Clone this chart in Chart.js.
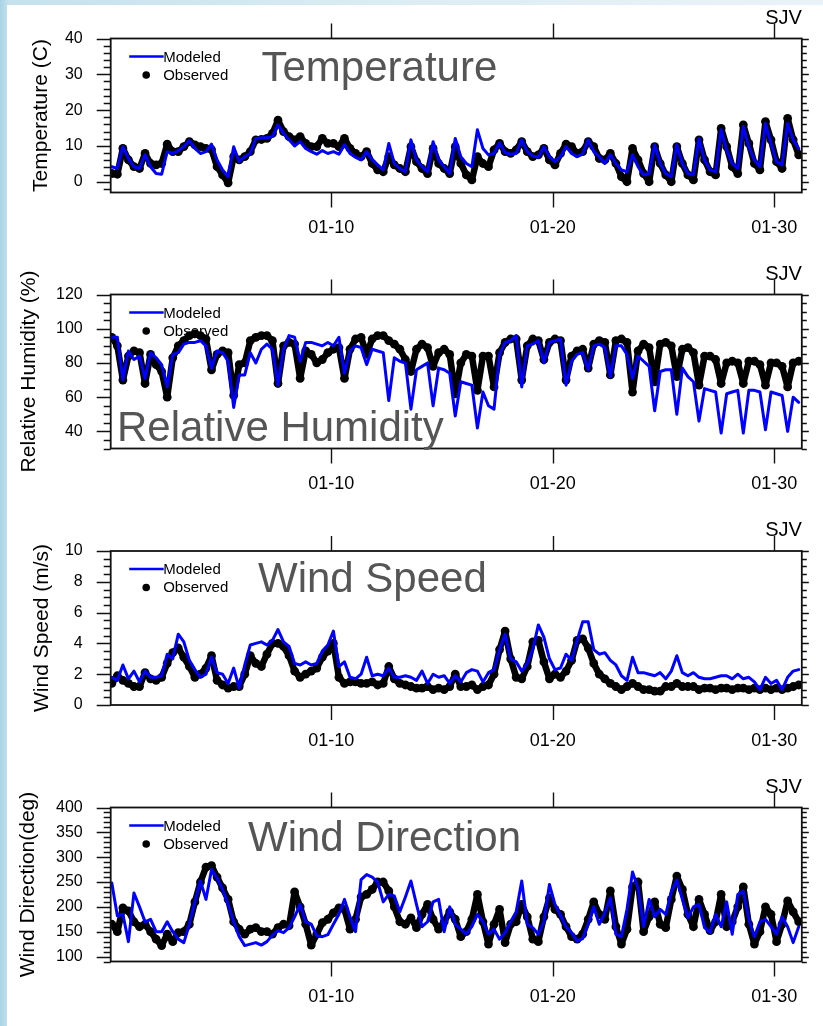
<!DOCTYPE html>
<html>
<head>
<meta charset="utf-8">
<script src="https://cdn.jsdelivr.net/npm/chart.js@4.4.0/dist/chart.umd.min.js"></script>
<style>
  html, body { margin: 0; padding: 0; }
  body {
    width: 823px; height: 1026px; position: relative; overflow: hidden;
    background: linear-gradient(to right, #a9d3e5 0px, #c4e1ed 8px, #dcedf4 50%, #e9f3f7 100%);
  }
  #sheet { position: absolute; left: 7px; top: 5px; right: 0; bottom: 0; background: #fff; }
  canvas { position: absolute; left: 0; }
</style>
</head>
<body>
<div id="sheet"></div>
<canvas id="c-temp" width="823" height="256" style="top:0px"></canvas>
<canvas id="c-rh" width="823" height="256" style="top:256px"></canvas>
<canvas id="c-ws" width="823" height="256" style="top:512px"></canvas>
<canvas id="c-wd" width="823" height="256" style="top:769px"></canvas>
<script>
// --- DATA: one value every 6 hours, first sample at day 0.1 ---
const START_DAY = 0.1;
const STEP_DAY = 0.25;
const dayTicks = [10, 20, 30];
const dayTickLabels = ['01-10', '01-20', '01-30'];

const tempModeled = [
  4.2, 3.7, 9.8, 6.5,  4.2, 3.7, 7.5, 4.2,  2.3, 2.1, 8.4, 7.9,  8.7, 9.8, 11.5, 9.3,
  7.9, 8.4, 10.5, 6.1,  3.3, 1.4, 9.8, 5.6,  7.0, 7.9, 12.1, 12.3,  12.3, 12.6, 15.9, 13.5,
  11.7, 10.0, 11.2, 9.3,  8.4, 7.7, 8.7, 7.9,  8.4, 7.7, 10.3, 7.9,  6.8, 6.1, 8.4, 6.2,
  4.7, 3.3, 10.7, 5.1,  3.7, 2.8, 11.7, 6.1,
  4.2, 2.8, 11.2, 6.1,  4.2, 2.3, 12.1, 7.0,  5.1, 4.2, 14.5, 9.3,  7.5, 7.9, 10.9, 8.1,
  7.7, 7.9, 11.7, 8.4,  7.2, 6.8, 9.8, 7.0,  5.6, 7.0, 9.8, 7.9,  7.0, 7.7, 11.7, 8.4,
  7.0, 5.1, 7.5, 5.1,  3.3, 2.8, 7.5, 4.2,  1.9, 2.3, 10.3, 5.1,  2.3, 1.4, 10.3, 5.1,
  2.3, 1.9, 12.1, 6.1,  3.3, 2.8, 14.5, 8.9,  5.1, 3.7, 15.4, 9.8,  6.1, 4.2, 16.3, 10.7,
  5.6, 4.7, 16.3, 11.7,  9.3
];
const tempObserved = [
  2.3, 2.1, 9.3, 6.1,  4.2, 3.7, 7.9, 5.1,  4.7, 5.1, 10.5, 8.4,  8.4, 9.8, 11.2, 10.3,
  9.8, 9.3, 9.0, 4.2,  1.9, -0.3, 7.0, 6.1,  7.0, 8.4, 11.7, 11.8,  12.1, 13.5, 17.2, 14.0,
  12.6, 11.7, 12.6, 10.7,  9.8, 9.8, 12.1, 10.7,  10.7, 9.8, 12.1, 9.3,  7.9, 7.0, 8.4, 5.1,
  3.3, 2.8, 7.0, 4.7,  3.7, 2.8, 9.8, 5.6,
  3.7, 2.3, 9.3, 5.1,  3.7, 2.3, 9.8, 5.1,  1.9, 0.5, 7.0, 5.1,  4.2, 8.9, 10.7, 8.4,
  7.9, 8.9, 11.2, 8.4,  7.0, 7.5, 9.3, 6.1,  4.7, 7.9, 10.5, 9.8,  7.9, 8.4, 11.2, 9.8,
  6.5, 6.1, 7.9, 5.1,  1.4, 0.0, 9.3, 6.1,  2.3, 0.0, 9.8, 5.1,  1.9, 0.0, 9.8, 5.1,
  1.9, 0.5, 11.7, 6.1,  2.8, 1.9, 14.9, 9.8,  4.2, 2.3, 15.9, 10.7,  5.1, 3.3, 16.8, 11.7,
  5.6, 3.7, 17.7, 11.7,  7.5
];

const rhModeled = [
  95, 95, 70, 87,  82, 84, 71, 86,  83, 79, 66, 85,  86, 91, 92, 92,
  93, 90, 77, 87,  86, 81, 54, 73,  73, 86, 80, 88,  91, 88, 67, 88,
  96, 95, 81, 92,  92, 91, 90, 92,  90, 95, 74, 87,  90, 89, 79, 88,
  87, 86, 58, 83,  81, 80, 53, 76,
  78, 80, 55, 77,  76, 74, 49, 69,  68, 67, 42, 63,  55, 53, 85, 92,
  93, 96, 66, 90,  91, 93, 80, 92,  93, 94, 67, 81,  85, 86, 76, 90,
  91, 89, 72, 90,  90, 85, 71, 84,  81, 78, 52, 75,  76, 76, 50, 77,
  72, 69, 46, 65,  64, 63, 39, 62,  63, 64, 39, 64,  64, 63, 41, 63,
  62, 61, 40, 60,  57
];
const rhObserved = [
  95, 90, 70, 84,  87, 86, 68, 85,  79, 75, 60, 83,  90, 93, 96, 97,
  96, 94, 76, 85,  87, 86, 61, 79,  80, 93, 95, 96,  96, 93, 68, 90,
  92, 91, 71, 87,  85, 80, 82, 86,  88, 89, 71, 88,  94, 95, 85, 94,
  96, 96, 93, 91,  88, 82, 75, 88,
  91, 89, 78, 86,  88, 85, 62, 80,  85, 84, 64, 84,  84, 66, 86, 92,
  94, 94, 70, 90,  94, 93, 82, 92,  94, 93, 70, 84,  87, 88, 77, 91,
  93, 92, 73, 93,  94, 92, 63, 87,  91, 89, 69, 91,  92, 90, 72, 88,
  89, 86, 67, 84,  84, 82, 68, 80,  81, 80, 68, 81,  81, 79, 67, 80,
  80, 78, 66, 80,  81
];

const wsModeled = [
  1.8, 1.6, 2.6, 1.7,  2.2, 1.5, 2.2, 1.8,  1.8, 1.9, 3.3, 3.0,  4.6, 4.1, 2.9, 2.3,
  1.8, 2.0, 3.1, 2.1,  2.0, 1.4, 2.4, 1.1,  2.6, 3.9, 4.0, 4.1,  3.9, 4.2, 4.9, 4.1,
  3.8, 2.7, 2.6, 2.8,  2.6, 2.7, 3.5, 3.9,  4.8, 2.5, 2.8, 1.8,  1.7, 2.0, 3.1, 1.9,
  2.0, 1.9, 2.4, 1.8,  1.8, 1.9, 1.8, 1.6,
  2.2, 1.4, 2.0, 1.8,  1.9, 1.4, 1.9, 1.5,  2.1, 2.3, 2.2, 1.5,  2.1, 2.3, 3.6, 4.6,
  3.0, 2.8, 2.2, 2.7,  3.6, 5.2, 4.4, 3.0,  2.3, 2.4, 3.3, 2.9,  4.2, 5.4, 5.4, 3.6,
  3.3, 3.4, 2.9, 2.6,  1.9, 1.6, 3.1, 2.1,  2.1, 2.0, 1.9, 2.1,  1.7, 2.2, 3.2, 2.1,
  1.9, 2.1, 1.8, 1.7,  1.7, 1.8, 1.9, 1.9,  1.7, 2.0, 1.7, 1.8,  1.5, 1.0, 1.8, 1.4,
  1.6, 1.0, 1.8, 2.2,  2.3
];
const wsObserved = [
  1.4, 1.9, 1.6, 1.4,  1.2, 1.2, 2.1, 1.7,  1.6, 1.8, 2.7, 3.4,  3.7, 3.1, 2.5, 1.8,
  2.0, 2.4, 3.2, 1.6,  1.3, 1.1, 1.2, 1.2,  2.0, 3.2, 2.7, 2.5,  3.3, 4.0, 4.0, 3.8,
  3.2, 2.2, 1.8, 2.0,  2.2, 2.4, 3.1, 3.5,  4.0, 1.8, 1.4, 1.5,  1.5, 1.4, 1.4, 1.5,
  1.3, 1.4, 2.5, 1.7,  1.4, 1.3, 1.2, 1.1,
  1.1, 1.2, 1.0, 1.1,  1.0, 1.2, 2.0, 1.2,  1.2, 1.3, 1.0, 1.2,  1.3, 2.0, 3.6, 4.8,
  3.0, 1.8, 1.7, 2.5,  4.1, 4.2, 2.8, 1.7,  2.0, 1.8, 2.2, 2.9,  4.2, 4.3, 3.7, 2.7,
  2.0, 1.7, 1.4, 1.2,  1.0, 1.2, 1.4, 1.2,  1.0, 1.0, 0.9, 0.9,  1.2, 1.2, 1.4, 1.2,
  1.2, 1.2, 1.0, 1.1,  1.1, 1.0, 1.1, 1.1,  1.0, 1.1, 1.1, 1.0,  1.1, 1.0, 1.1, 1.0,
  1.1, 1.0, 1.1, 1.2,  1.3
];

const wdModeled = [
  248, 182, 185, 130,  228, 200, 170, 175,  150, 150, 170, 150,  135, 128, 165, 210,
  252, 215, 275, 258,  235, 205, 170, 140,  122, 125, 128, 123,  130, 143, 152, 148,
  158, 180, 205, 170,  165, 142, 140, 144,  165, 185, 215, 180,  150, 255, 265, 260,
  250, 210, 225, 222,  190, 220, 252, 205,
  160, 170, 210, 215,  150, 200, 165, 155,  145, 160, 185, 170,  145, 155, 135, 148,
  170, 190, 252, 165,  158, 145, 170, 245,  205, 183, 160, 148,  131, 136, 165, 200,
  165, 188, 218, 145,  140, 195, 270, 238,  160, 215, 180, 195,  185, 230, 254, 215,
  178, 200, 205, 158,  148, 185, 160, 210,  145, 225, 232, 175,  140, 170, 175, 160,
  145, 180, 160, 128,  160
];
const wdObserved = [
  165, 150, 198, 192,  170, 160, 165, 150,  135, 122, 145, 130,  148, 150, 165, 210,
  250, 280, 283, 260,  238, 215, 170, 155,  145, 155, 158, 150,  150, 145, 158, 165,
  162, 230, 200, 165,  123, 145, 168, 175,  188, 198, 195, 155,  175, 220, 225, 235,
  250, 250, 232, 200,  170, 165, 178, 158,
  185, 205, 175, 155,  170, 190, 175, 140,  150, 175, 225, 170,  125, 165, 195, 128,
  165, 170, 205, 180,  135, 130, 180, 218,  195, 185, 160, 140,  135, 145, 175, 210,
  185, 175, 232, 160,  125, 155, 240, 250,  150, 180, 210, 165,  158, 215, 262, 235,
  185, 160, 215, 185,  152, 170, 225, 160,  170, 200, 240, 165,  125, 150, 200, 185,
  130, 165, 212, 190,  170
];

const tempTicks = [0, 10, 20, 30, 40];
const rhTicks = [40, 60, 80, 100, 120];
const wsTicks = [0, 2, 4, 6, 8, 10];
const wdTicks = [100, 150, 200, 250, 300, 350, 400];

// --- PANEL SETUP ---
const FONT = '"Liberation Sans", Arial, Helvetica, sans-serif';
const BOX_LEFT = 110.7;
const BOX_RIGHT = 806.7;
const BOX_HEIGHT = 154;
const CANVAS_H = 256;

const PANELS = [
  { id: 'c-temp', padTop: 38.5, title: 'Temperature', titleX: 261.5, titleDy: 42.5,
    yTitle: 'Temperature (C)', yTitleX: 41, min: -3, max: 40, major: 10, minor: 2,
    ticks: tempTicks, modeled: tempModeled, observed: tempObserved },
  { id: 'c-rh', padTop: 38.5, title: 'Relative Humidity', titleX: 117, titleDy: 146.3,
    yTitle: 'Relative Humidity (%)', yTitleX: 29, min: 30, max: 120, major: 20, minor: 5,
    ticks: rhTicks, modeled: rhModeled, observed: rhObserved },
  { id: 'c-ws', padTop: 39, title: 'Wind Speed', titleX: 258, titleDy: 40.7,
    yTitle: 'Wind Speed (m/s)', yTitleX: 42, min: 0, max: 10, major: 2, minor: 0.5,
    ticks: wsTicks, modeled: wsModeled, observed: wsObserved },
  { id: 'c-wd', padTop: 38.5, title: 'Wind Direction', titleX: 248, titleDy: 43.2,
    yTitle: 'Wind Direction(deg)', yTitleX: 28, min: 90, max: 400, major: 50, minor: 10,
    ticks: wdTicks, modeled: wdModeled, observed: wdObserved }
];

function toPoints(values) {
  return values.map((v, i) => ({ x: START_DAY + i * STEP_DAY, y: v }));
}

// frame, outward ticks, legend and texts in the NCL style
const nclFrame = {
  id: 'nclFrame',
  afterDraw(chart) {
    const p = chart.options.plugins.nclFrame.panel;
    const { ctx, chartArea: a, scales } = chart;
    const x = scales.x, y = scales.y;
    ctx.save();

    // y ticks, left (long) and right (short)
    ctx.strokeStyle = '#111';
    ctx.lineWidth = 1.4;
    ctx.beginPath();
    const k0 = Math.ceil(p.min / p.minor - 1e-9);
    const k1 = Math.floor(p.max / p.minor + 1e-9);
    for (let k = k0; k <= k1; k++) {
      const v = k * p.minor;
      const isMajor = Math.abs(v / p.major - Math.round(v / p.major)) < 1e-6;
      const py = Math.round(y.getPixelForValue(v)) + 0.5;
      const lenL = isMajor ? 14 : 7;
      const lenR = isMajor ? 7 : 5;
      ctx.moveTo(a.left - lenL, py); ctx.lineTo(a.left, py);
      ctx.moveTo(a.right, py); ctx.lineTo(a.right + lenR, py);
    }
    // x ticks, top and bottom
    dayTicks.forEach(d => {
      const px = Math.round(x.getPixelForValue(d)) + 0.5;
      ctx.moveTo(px, a.top - 15); ctx.lineTo(px, a.top);
      ctx.moveTo(px, a.bottom); ctx.lineTo(px, a.bottom + 15);
    });
    ctx.stroke();

    // box
    ctx.lineWidth = 1.8;
    ctx.strokeRect(a.left, a.top, a.right - a.left, a.bottom - a.top);

    // legend
    ctx.strokeStyle = '#0000ff';
    ctx.lineWidth = 2.4;
    ctx.beginPath();
    ctx.moveTo(a.left + 18.5, a.top + 18);
    ctx.lineTo(a.left + 53, a.top + 18);
    ctx.stroke();
    ctx.fillStyle = '#000';
    ctx.beginPath();
    ctx.arc(a.left + 35.5, a.top + 36.5, 3.8, 0, Math.PI * 2);
    ctx.fill();
    ctx.font = '15px ' + FONT;
    ctx.textAlign = 'left';
    ctx.textBaseline = 'middle';
    ctx.fillText('Modeled', a.left + 52.5, a.top + 19);
    ctx.fillText('Observed', a.left + 52.5, a.top + 37);

    // site label
    ctx.font = '20px ' + FONT;
    ctx.textAlign = 'right';
    ctx.textBaseline = 'alphabetic';
    ctx.fillText('SJV', a.right, a.top - 15);

    // y axis title
    ctx.save();
    ctx.translate(p.yTitleX, (a.top + a.bottom) / 2);
    ctx.rotate(-Math.PI / 2);
    ctx.font = '21px ' + FONT;
    ctx.textAlign = 'center';
    ctx.textBaseline = 'middle';
    ctx.fillText(p.yTitle, 0, 0);
    ctx.restore();

    // big panel label
    ctx.font = '42px ' + FONT;
    ctx.fillStyle = '#555555';
    ctx.textAlign = 'left';
    ctx.textBaseline = 'alphabetic';
    ctx.fillText(p.title, p.titleX, a.top + p.titleDy);

    ctx.restore();
  }
};

PANELS.forEach(p => {
  const ctx = document.getElementById(p.id).getContext('2d');
  new Chart(ctx, {
    type: 'line',
    data: {
      datasets: [
        {
          label: 'Modeled',
          data: toPoints(p.modeled),
          borderColor: '#0000ff',
          borderWidth: 3,
          borderJoinStyle: 'round',
          borderCapStyle: 'round',
          pointRadius: 0,
          tension: 0,
          fill: false
        },
        {
          // dense hourly dots in the original: a heavy black trace plus dots
          label: 'Observed',
          data: toPoints(p.observed),
          showLine: true,
          borderColor: '#000',
          borderWidth: 6.5,
          borderJoinStyle: 'round',
          borderCapStyle: 'round',
          pointRadius: 4.4,
          pointBorderWidth: 0,
          pointBackgroundColor: '#000',
          backgroundColor: '#000',
          tension: 0,
          fill: false
        }
      ]
    },
    options: {
      responsive: false,
      animation: false,
      devicePixelRatio: 1,
      layout: { padding: { top: p.padTop, right: 823 - BOX_RIGHT, left: 0, bottom: 0 } },
      plugins: {
        legend: { display: false },
        tooltip: { enabled: false },
        nclFrame: { panel: p }
      },
      scales: {
        x: {
          type: 'linear',
          min: 0.05,
          max: 31.24,
          grid: { display: false, drawTicks: false },
          border: { display: false },
          afterBuildTicks: s => { s.ticks = dayTicks.map(v => ({ value: v })); },
          afterFit: s => { s.height = CANVAS_H - p.padTop - BOX_HEIGHT; },
          ticks: {
            padding: 25,
            autoSkip: false,
            maxRotation: 0,
            color: '#000',
            font: { family: FONT, size: 18 },
            callback: (v, i) => dayTickLabels[i]
          }
        },
        y: {
          type: 'linear',
          min: p.min,
          max: p.max,
          grid: { display: false, drawTicks: false },
          border: { display: false },
          afterBuildTicks: s => { s.ticks = p.ticks.map(v => ({ value: v })); },
          afterFit: s => { s.width = BOX_LEFT; },
          ticks: {
            padding: 28,
            color: '#000',
            font: { family: FONT, size: 16 },
            callback: v => String(v)
          }
        }
      }
    },
    plugins: [nclFrame]
  });
});
</script>
</body>
</html>
